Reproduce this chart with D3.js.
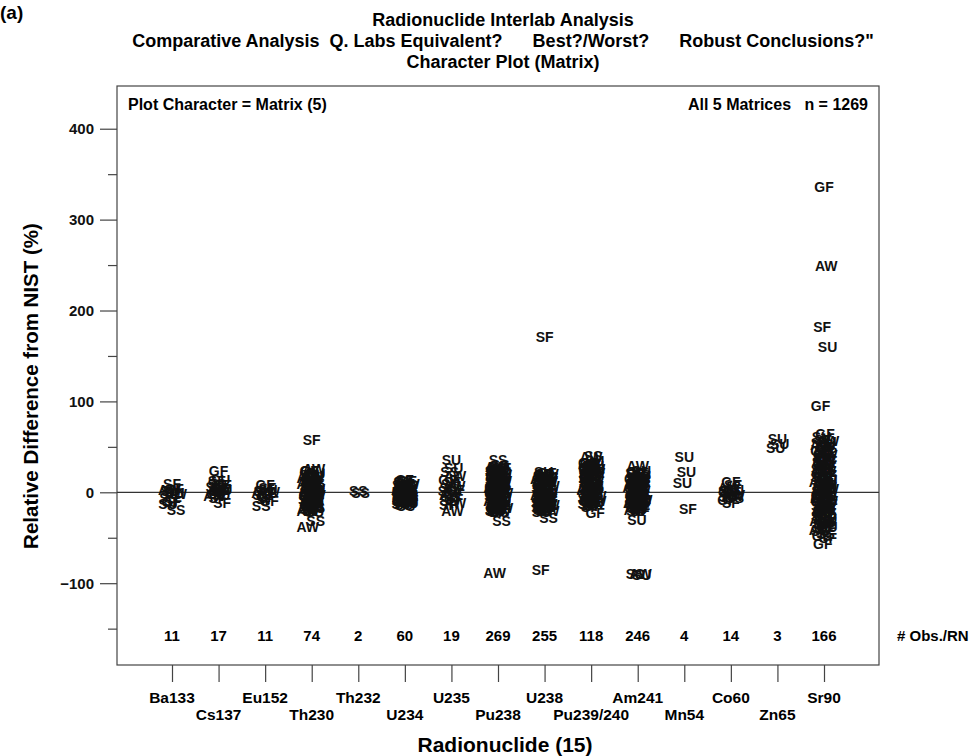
<!DOCTYPE html>
<html>
<head>
<meta charset="utf-8">
<script src="https://cdn.jsdelivr.net/npm/d3@7"></script>
<style>
  html, body { margin: 0; padding: 0; background: #fff; }
  svg { display: block; }
  .lbl { font-family: "Liberation Sans", Arial, sans-serif; font-weight: bold; }
</style>
</head>
<body>
<svg id="chart" width="969" height="756"></svg>
<script>
// Radionuclides in plotting order and the number of lab results for each
const nuclides = ["Ba133", "Cs137", "Eu152", "Th230", "Th232", "U234", "U235", "Pu238",
                  "U238", "Pu239/240", "Am241", "Mn54", "Co60", "Zn65", "Sr90"];
const obsCounts = [11, 17, 11, 74, 2, 60, 19, 269, 255, 118, 246, 4, 14, 3, 166];

// Y axis ticks (%)
const yMajorTicks = [-100, 0, 100, 200, 300, 400];
const yMinorTicks = [-150, -50, 50, 150, 250, 350];

// Results per radionuclide: matrix code followed by relative difference from NIST (%)
const resBa133 = "SF 9 GF 4 SU 1 AW -2 SS -6 SF -9 GF -11 SU -1 AW 3 SS -19 SU -13";
const resCs137 = "GF 24 SU 14 SF 12 GF 8 SU 6 AW 4 SS 2 SF 0 GF -2 SU 3 AW -4 SS 5 SF -6 GF 1 SU -3 SS 9 SF -12";
const resEu152 = "GF 8 SF 5 SU 2 AW 0 SS -3 GF -5 SF -7 SU 3 AW -1 GF -9 SS -15";
const resTh230 = "SF 58 AW 26 GF 24 SU 21 SS 19 AW 17 SF 15 GF 13 SU 12 SS 10 AW 9 GF 7 SF 6 SU 5 SS 4 AW 2 GF 1 SF 0 " +
                 "SU -1 SS -2 AW -3 GF -5 SF -6 SU -8 SS -9 AW -10 GF -12 SF -13 SU -15 SS -16 AW -18 GF -19 SF -21 " +
                 "SU -22 GF 23.5 SU 20 AW 16 SS 14 GF 11 SF 8 AW 4 SU 3 GF -0.5 SS -4 AW -7 SF -11 SU -12 GF -14 " +
                 "SS -17 AW -20 SU 18 GF 16.5 AW 12.5 SF 10.5 SS 7.5 SU 1.5 GF -2.5 AW -5.5 SF -9.5 SS -13.5 " +
                 "SU -18.5 SS -31 AW -38";
const resTh232 = "SS 2 SS -1";
const resU234 = "SF 14 GF 12 SU 11 AW 9 SS 8 SF 6 GF 5 SU 4 AW 3 SS 2 SF 1 GF 0 SU -1 AW -2 SS -3 SF -4 GF -6 " +
                "SU -7 AW -8 SS -9 SF -10 GF -11 SU -12 SS -13 AW -11 GF 13 SS 10 AW 7 SU 6 SF 3 GF 2 SS -0.5 " +
                "AW -1 SU -4 SF -5 GF -8 SS -10 AW -12 SU -14 SF 9.5 GF 7.5 AW 1.5 SU -2.5 GF -9.5 SS -15";
const resU235 = "SU 36 SU 27 SS 22 AW 18 GF 14 SF 11 SU 9 AW 7 SS 5 GF 3 SU 1 SF -1 AW -3 SS -5 GF -7 SU -9 AW -12 SF -14 AW -21";
const resPu238 = "SS 36 SS 30 AW 28 GF 27 SU 24 SF 22 SS 21 AW 19 GF 17 SU 16 SF 14 SS 13 AW 11 GF 10 SU 9 SF 7 " +
                 "SS 6 AW 5 GF 4 SU 2 SF 1 SS 0 AW -1 GF -2 SU -3 SF -5 SS -6 AW -7 GF -8 SU -10 SF -11 SS -12 " +
                 "AW -14 GF -15 SU -16 SF -18 SS -19 AW -21 GF -22 GF 29 SU 26 AW 23 SF 20 SS 18 GF 15 SU 13 " +
                 "AW 12 SF 9 SS 8 GF 6 SU 3 AW 1 SF 0.5 SS -1.5 GF -4 SU -6 AW -9 SF -10 SS -13 GF -13.5 SU -17 " +
                 "AW -17.5 SF -20 SS -21.5 SU 25 GF 22.5 AW 20.5 SF 18.5 SS 16.5 SU 11.5 GF 8.5 AW 7.5 SF 4.5 " +
                 "SS 2.5 GF -0.5 SU -4.5 AW -8.5 SF -12.5 SS -15.5 GF -18.5 SU -20 SS -32 AW -89";
const resU238 = "SF 171 GF 21 SF 19 SU 17 AW 15 SS 13 GF 12 SF 10 SU 8 AW 7 SS 5 GF 4 SF 3 SU 1 AW 0 SS -1 GF -2 " +
                "SF -4 SU -5 AW -6 SS -8 GF -9 SF -10 SU -12 AW -13 SS -15 GF -16 SF -18 SU -19 AW -21 SS -22 " +
                "GF -20.5 SU 22 AW 20 SS 18 GF 16 SF 14 SU 11 AW 9 SS 6 GF 6.5 SF 2 SU -1.5 AW -3 SS -4 GF -7 " +
                "SF -7.5 SU -11 AW -14 SS -17 GF -19.5 SF 20.5 SU 15.5 AW 12.5 GF 9.5 SS 3.5 SF -0.5 AW -2.5 " +
                "SU -9.5 GF -13.5 SF -16.5 SS -28 SF -85";
const resPu239 = "AW 39 SS 40 AW 31 SU 29 GF 27 SF 25 SS 23 AW 21 SU 19 GF 17 SF 15 SS 13 AW 11 SU 10 GF 8 SF 6 " +
                 "SS 5 AW 3 SU 2 GF 0 SF -1 SS -3 AW -4 SU -6 GF -7 SF -9 SS -11 AW -12 SU -14 SU 34 GF 32 SF 30 " +
                 "SS 28 AW 26 SU 24 GF 22 SF 20 SS 18 AW 16 SU 14 GF 12 SF 9 SS 7 AW 4 SU 1 GF -2 SF -5 SS -8 " +
                 "AW -10 SU -13 GF -15 SF -16 SS 28.5 AW 24.5 GF 19.5 SU 16.5 SF 11.5 AW 6.5 GF 2.5 SS -1.5 " +
                 "SU -9.5 GF -23";
const resAm241 = "AW 29 SS 22 GF 20 SU 18 SF 16 AW 14 SS 12 GF 11 SU 9 SF 7 AW 6 SS 4 GF 3 SU 1 SF 0 AW -1 SS -3 " +
                 "GF -4 SU -6 SF -7 AW -9 SS -10 GF -12 SU -13 SF -15 AW -16 SS -18 GF -20 SU -21 SU 23 SF 21 " +
                 "GF 17 AW 15 SS 13 SU 10 SF 8 GF 5 AW 2 SS 1 SU -2 SF -5 GF -6 AW -8 SS -12 SU -15 SF -17 " +
                 "GF -18 AW -19 SS 19.5 GF 14.5 SU 12.5 AW 9.5 SF 4.5 SS -0.5 GF -2.5 SU -8.5 AW -11.5 SF -13.5 " +
                 "SU -30 AW -90 SS -90 SU -91";
const resMn54 = "SU 39 SU 22 SU 10 SF -18";
const resCo60 = "GF 11 SF 8 AW 5 SU 3 SS 2 GF 0 SF -1 AW -3 SU -5 SS -6 GF -8 AW -4 SU 1 SF -12";
const resZn65 = "SU 59 SU 53 SU 49";
const resSr90 = "GF 336 AW 249 SF 182 SU 160 GF 95 GF 64 SF 58 SU 55 AW 52 SS 49 GF 46 SF 43 SU 40 AW 37 SS 34 " +
                "GF 31 SF 28 SU 26 AW 23 SS 21 GF 18 SF 16 SU 13 AW 11 SS 9 GF 7 SF 5 SU 3 AW 1 SS -1 GF -3 " +
                "SF -5 SU -7 AW -9 SS -11 GF -13 SF -15 SU -18 AW -20 SS -22 GF -24 SF -27 SU -29 AW -31 SS -34 " +
                "GF -36 SF -39 SU 61 AW 57 SS 54 GF 50 SF 47 SU 44 AW 41 SS 38 GF 35 SF 33 SU 30 AW 27 SS 25 " +
                "GF 22 SF 19 SU 17 AW 14 SS 12 GF 10 SF 8 SU 6 AW 4 SS 2 GF 0 SF -2 SU -4 AW -6 SS -8 GF -10 " +
                "SF -12 SU -14 AW -17 SS -19 GF -21 SF -23 SU -26 AW -28 SS -30 GF -33 SF -35 SU -38 AW -41 " +
                "SU 51.5 GF 42.5 AW 36.5 SF 24.5 SS 15.5 SU 5.5 GF -6.5 AW -15.5 SF -25.5 SS -32.5 " +
                "GF -48 SF -50 SS -42 SS -46 GF -57";

const results = [resBa133, resCs137, resEu152, resTh230, resTh232, resU234, resU235, resPu238,
                 resU238, resPu239, resAm241, resMn54, resCo60, resZn65, resSr90];

function parseResults(str, k) {
  const t = str.trim().split(/\s+/);
  const out = [];
  for (let i = 0; i < t.length; i += 2) out.push({ k, code: t[i], value: +t[i + 1], i: i / 2 });
  return out;
}
const points = results.flatMap((s, k) => parseResults(s, k));

const svg = d3.select("#chart");
const box = { left: 117, right: 879, top: 86, bottom: 665 };

const x = d3.scaleLinear().domain([1, 15]).range([172, 824]);
const y = d3.scaleLinear().domain([-190, 447]).range([box.bottom, box.top]);

// small horizontal spread so stacked characters stay distinguishable
const spread = [0, 0.55, -0.45, 0.9, -0.85, 0.25, -0.2, 0.7, -0.65, 1, -1, 0.4, -0.3];
const jitterPx = 4;

// Titles
svg.append("text").attr("class", "lbl").attr("x", 0).attr("y", 19)
  .attr("font-size", 19).text("(a)");
const titleLines = [
  "Radionuclide Interlab Analysis",
  "Comparative Analysis  Q. Labs Equivalent?      Best?/Worst?      Robust Conclusions?\"",
  "Character Plot (Matrix)"
];
svg.append("g").selectAll("text").data(titleLines).join("text")
  .attr("class", "lbl")
  .attr("x", 503).attr("y", (d, i) => 26 + i * 21)
  .attr("text-anchor", "middle").attr("font-size", 18)
  .style("white-space", "pre")
  .text(d => d);

// Plot frame
svg.append("rect")
  .attr("x", box.left).attr("y", box.top)
  .attr("width", box.right - box.left).attr("height", box.bottom - box.top)
  .attr("fill", "none").attr("stroke", "#444").attr("stroke-width", 1.2);

// Zero reference line
svg.append("line")
  .attr("x1", box.left).attr("x2", box.right)
  .attr("y1", y(0)).attr("y2", y(0))
  .attr("stroke", "#333").attr("stroke-width", 1.2);

// Y axis
const yAxis = d3.axisLeft(y).tickValues(yMajorTicks).tickSize(17).tickPadding(6).tickFormat(d3.format("d"));
const gy = svg.append("g").attr("transform", `translate(${box.left},0)`).call(yAxis);
gy.select(".domain").remove();
gy.selectAll("line").attr("stroke", "#444").attr("stroke-width", 1.2);
gy.selectAll("text").attr("class", "lbl").attr("font-size", 15).attr("fill", "#111");
const yMinor = d3.axisLeft(y).tickValues(yMinorTicks).tickSize(9).tickFormat("");
const gym = svg.append("g").attr("transform", `translate(${box.left},0)`).call(yMinor);
gym.select(".domain").remove();
gym.selectAll("line").attr("stroke", "#444").attr("stroke-width", 1.2);

// X axis: ticks below the frame, labels on two staggered rows
const xAxis = d3.axisBottom(x).tickValues(d3.range(1, 16)).tickSize(17).tickFormat("");
const gx = svg.append("g").attr("transform", `translate(0,${box.bottom})`).call(xAxis);
gx.select(".domain").remove();
gx.selectAll("line").attr("stroke", "#444").attr("stroke-width", 1.2);
svg.append("g").selectAll("text").data(nuclides).join("text")
  .attr("class", "lbl")
  .attr("x", (d, i) => x(i + 1))
  .attr("y", (d, i) => i % 2 === 0 ? 703 : 720)
  .attr("text-anchor", "middle").attr("font-size", 15.5)
  .text(d => d);

// Axis titles
svg.append("text").attr("class", "lbl").attr("x", 505).attr("y", 752)
  .attr("text-anchor", "middle").attr("font-size", 21).text("Radionuclide (15)");
svg.append("text").attr("class", "lbl")
  .attr("transform", `translate(38,386) rotate(-90)`)
  .attr("text-anchor", "middle").attr("font-size", 20.5)
  .text("Relative Difference from NIST (%)");

// Header notes inside the frame
svg.append("text").attr("class", "lbl").attr("x", 128).attr("y", 110)
  .attr("font-size", 16).text("Plot Character = Matrix (5)");
svg.append("text").attr("class", "lbl").attr("x", 868).attr("y", 110)
  .attr("text-anchor", "end").attr("font-size", 16).style("white-space", "pre")
  .text("All 5 Matrices   n = " + d3.sum(obsCounts));

// Observation counts per radionuclide
svg.append("g").selectAll("text").data(obsCounts).join("text")
  .attr("class", "lbl")
  .attr("x", (d, i) => x(i + 1)).attr("y", y(-158))
  .attr("dy", "0.35em").attr("text-anchor", "middle").attr("font-size", 15)
  .text(d => d);
svg.append("text").attr("class", "lbl").attr("x", 897).attr("y", y(-158))
  .attr("dy", "0.35em").attr("font-size", 15).text("# Obs./RN");

// Character plot: each result drawn as its matrix code
svg.append("g").selectAll("text").data(points).join("text")
  .attr("class", "lbl")
  .attr("x", d => x(d.k + 1) + spread[d.i % spread.length] * jitterPx)
  .attr("y", d => y(d.value))
  .attr("dy", "0.36em")
  .attr("text-anchor", "middle").attr("font-size", 14).attr("fill", "#111")
  .text(d => d.code);
</script>
</body>
</html>
